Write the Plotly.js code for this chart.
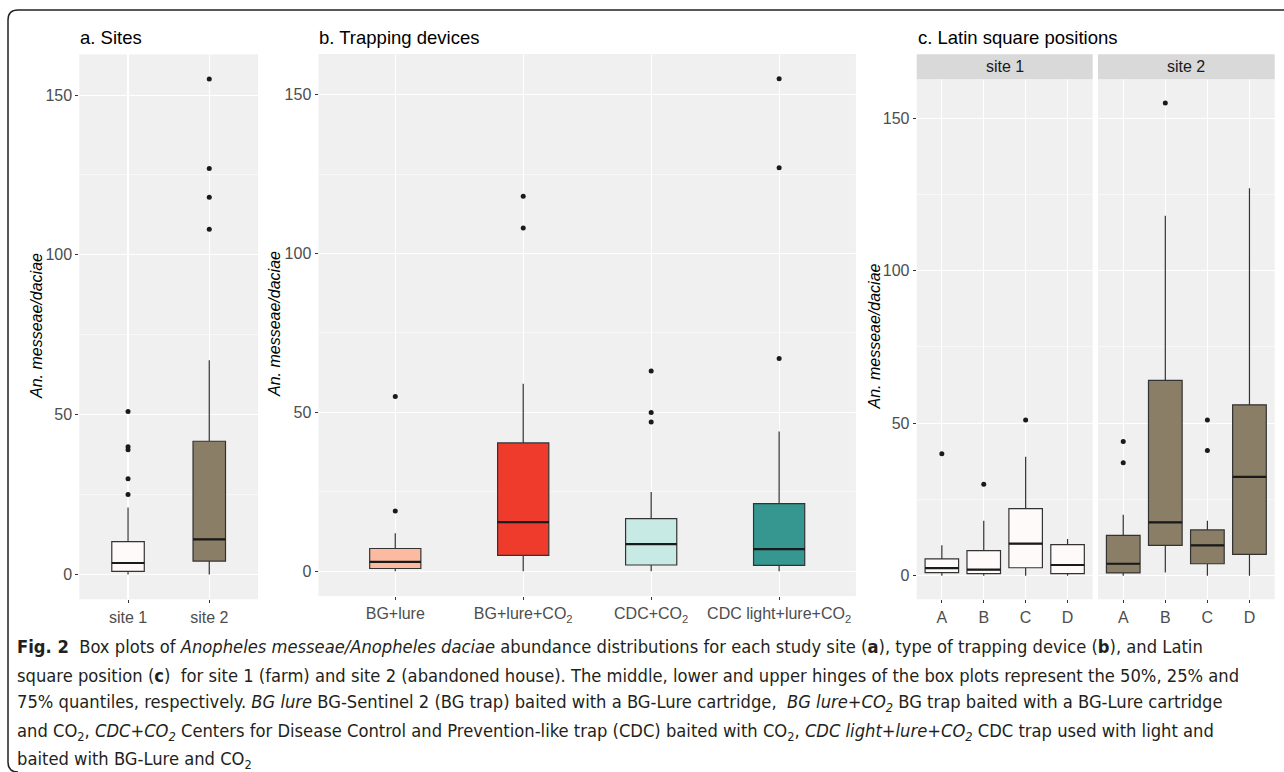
<!DOCTYPE html>
<html><head><meta charset="utf-8">
<script src="https://cdn.plot.ly/plotly-3.0.1.min.js"></script>
<style>html,body{margin:0;padding:0;background:#fff;overflow:hidden}#chart{width:1284px;height:772px}</style>
</head><body><div id="chart"></div>
<script>
// ---------- Panel a: sites ----------
const siteCategories = ["site 1", "site 2"];
const siteLowerWhisker = [0, 0];
const siteQ1 = [1.0, 4.2];
const siteMedian = [3.6, 11.0];
const siteQ3 = [10.3, 41.7];
const siteUpperWhisker = [21, 67];
const siteOutliersSite1 = [25, 30, 39, 40, 51];
const siteOutliersSite2 = [108, 118, 127, 155];

// ---------- Panel b: trapping devices ----------
const trapCategories = ["BG+lure", "BG+lure+CO2", "CDC+CO2", "CDC light+lure+CO2"];
const trapTickLabels = ["BG+lure", "BG+lure+CO<sub>2</sub>", "CDC+CO<sub>2</sub>", "CDC light+lure+CO<sub>2</sub>"];
const trapLowerWhisker = [0, 0, 0, 0];
const trapQ1 = [0.9, 5.0, 2.0, 1.9];
const trapMedian = [3.0, 15.5, 8.6, 7.0];
const trapQ3 = [7.2, 40.4, 16.6, 21.3];
const trapUpperWhisker = [12, 59, 25, 44];
const trapOutliersBGlure = [19, 55];
const trapOutliersBGlureCO2 = [108, 118];
const trapOutliersCDCCO2 = [47, 50, 63];
const trapOutliersCDClight = [67, 127, 155];

// ---------- Panel c: Latin square positions ----------
const positionCategories = ["A", "B", "C", "D"];
const facetLabels = ["site 1", "site 2"];
const site1LowerWhisker = [0, 0, 0, 0];
const site1Q1 = [1.0, 0.7, 2.6, 0.7];
const site1Median = [2.5, 2.0, 10.5, 3.5];
const site1Q3 = [5.5, 8.2, 22.0, 10.2];
const site1UpperWhisker = [10, 18, 39, 12];
const site1OutliersA = [40], site1OutliersB = [30], site1OutliersC = [51], site1OutliersD = [];
const site2LowerWhisker = [0, 1, 0, 0];
const site2Q1 = [0.9, 9.9, 3.9, 7.0];
const site2Median = [3.9, 17.5, 9.9, 32.4];
const site2Q3 = [13.2, 64.0, 15.0, 56.0];
const site2UpperWhisker = [20, 118, 18, 127];
const site2OutliersA = [37, 44], site2OutliersB = [155], site2OutliersC = [41, 51], site2OutliersD = [];

// ---------- styles ----------
const W = 1284, H = 772;
const PX = x => x / W, PY = y => 1 - y / H;
const siteFills = ["#FFFAFA", "#8B7E66"];
const trapFills = ["#FCBBA1", "#EF3B2C", "#C7EAE5", "#35978F"];
const outline = "#333333";
const FONT = "Liberation Sans, Arial, sans-serif";
const CAPFONT = "DejaVu Sans Condensed, sans-serif";

const traces = [];
function addBox(xa, ya, cats, q1, med, q3, lo, hi, fill, width) {
  traces.push({type: "box", xaxis: xa, yaxis: ya, x: cats, q1: q1, median: med, q3: q3,
    lowerfence: lo, upperfence: hi, fillcolor: fill, width: width, whiskerwidth: 0,
    boxpoints: false, line: {color: outline, width: 1.2}, hoverinfo: "skip"});
}
function addMedian(xa, ya, cats, med, pxWidth) {
  traces.push({type: "scatter", mode: "markers", xaxis: xa, yaxis: ya, x: cats, y: med,
    marker: {symbol: "line-ew", size: pxWidth / 1.4, color: "#1A1A1A", line: {color: "#1A1A1A", width: 2.2}},
    hoverinfo: "skip", cliponaxis: false});
}
function addOutliers(xa, ya, cats, lists) {
  const xs = [], ys = [];
  lists.forEach((l, i) => l.forEach(v => { xs.push(cats[i]); ys.push(v); }));
  traces.push({type: "scatter", mode: "markers", xaxis: xa, yaxis: ya, x: xs, y: ys,
    marker: {size: 5, color: "#1A1A1A"}, hoverinfo: "skip", cliponaxis: false});
}

// panel a
siteCategories.forEach((c, i) => addBox("x", "y", [c], [siteQ1[i]], [siteMedian[i]], [siteQ3[i]],
  [siteLowerWhisker[i]], [siteUpperWhisker[i]], siteFills[i], 0.4));
addMedian("x", "y", siteCategories, siteMedian, 0.4 * 81.2);
addOutliers("x", "y", siteCategories, [siteOutliersSite1, siteOutliersSite2]);

// panel b
trapCategories.forEach((c, i) => addBox("x2", "y2", [c], [trapQ1[i]], [trapMedian[i]], [trapQ3[i]],
  [trapLowerWhisker[i]], [trapUpperWhisker[i]], trapFills[i], 0.4));
addMedian("x2", "y2", trapCategories, trapMedian, 0.4 * 128.3);
addOutliers("x2", "y2", trapCategories, [trapOutliersBGlure, trapOutliersBGlureCO2, trapOutliersCDCCO2, trapOutliersCDClight]);

// panel c
addBox("x3", "y3", positionCategories, site1Q1, site1Median, site1Q3, site1LowerWhisker, site1UpperWhisker, siteFills[0], 0.8);
addMedian("x3", "y3", positionCategories, site1Median, 0.8 * 41.9);
addOutliers("x3", "y3", positionCategories, [site1OutliersA, site1OutliersB, site1OutliersC, site1OutliersD]);
addBox("x4", "y4", positionCategories, site2Q1, site2Median, site2Q3, site2LowerWhisker, site2UpperWhisker, siteFills[1], 0.8);
addMedian("x4", "y4", positionCategories, site2Median, 0.8 * 41.9);
addOutliers("x4", "y4", positionCategories, [site2OutliersA, site2OutliersB, site2OutliersC, site2OutliersD]);

function xAxis(x0, x1, anchor, cats, ticktext) {
  const ax = {domain: [PX(x0), PX(x1)], anchor: anchor, type: "category", categoryorder: "array",
    categoryarray: cats, range: [-0.6, cats.length - 0.4], showgrid: true, gridcolor: "#FFFFFF",
    gridwidth: 1.1, zeroline: false, showline: false, ticks: "outside", ticklen: 3, tickwidth: 1,
    tickcolor: outline, tickfont: {family: FONT, size: 16, color: "#4D4D4D"}, fixedrange: true};
  if (ticktext) { ax.tickmode = "array"; ax.tickvals = cats; ax.ticktext = ticktext; }
  return ax;
}
function yAxis(y0, y1, anchor, showLabels) {
  return {domain: [PY(y1), PY(y0)], anchor: anchor, range: [-7.75, 162.75], tickmode: "linear",
    tick0: 0, dtick: 50, showgrid: true, gridcolor: "#FFFFFF", gridwidth: 1.1, zeroline: false,
    showline: false, ticks: showLabels ? "outside" : "", ticklen: 3, tickwidth: 1, tickcolor: outline,
    showticklabels: showLabels, tickfont: {family: FONT, size: 16, color: "#4D4D4D"},
    minor: {tick0: 0, dtick: 25, showgrid: true, gridcolor: "#FFFFFF", gridwidth: 0.5, ticks: ""},
    fixedrange: true};
}

const annotations = [];
function ann(text, x, y, opts) {
  annotations.push(Object.assign({text: text, xref: "paper", yref: "paper", x: PX(x), y: PY(y),
    showarrow: false, xanchor: "left", yanchor: "middle",
    font: {family: FONT, size: 18.5, color: "#000000"}}, opts || {}));
}
ann("a. Sites", 78, 38);
ann("b. Trapping devices", 317, 38);
ann("c. Latin square positions", 915.5, 38);
const yTitle = "<i>An. messeae/daciae</i>";
[[37, 326], [275, 324], [873.5, 337]].forEach(p => ann(yTitle, p[0], p[1],
  {xanchor: "center", textangle: -90, font: {family: FONT, size: 16, color: "#000000"}}));
ann(facetLabels[0], (916.7 + 1092.7) / 2, 67, {xanchor: "center", font: {family: FONT, size: 16, color: "#1A1A1A"}});
ann(facetLabels[1], (1098 + 1274.7) / 2, 67, {xanchor: "center", font: {family: FONT, size: 16, color: "#1A1A1A"}});

const captionLines = [
  "<b>Fig. 2</b>  Box plots of <i>Anopheles messeae/Anopheles daciae</i> abundance distributions for each study site (<b>a</b>), type of trapping device (<b>b</b>), and Latin",
  "square position (<b>c</b>)  for site 1 (farm) and site 2 (abandoned house). The middle, lower and upper hinges of the box plots represent the 50%, 25% and",
  "75% quantiles, respectively. <i>BG lure</i> BG-Sentinel 2 (BG trap) baited with a BG-Lure cartridge,  <i>BG lure+CO<sub>2</sub></i> BG trap baited with a BG-Lure cartridge",
  "and CO<sub>2</sub>, <i>CDC+CO<sub>2</sub></i> Centers for Disease Control and Prevention-like trap (CDC) baited with CO<sub>2</sub>, <i>CDC light+lure+CO<sub>2</sub></i> CDC trap used with light and",
  "baited with BG-Lure and CO<sub>2</sub>"
];
const captionY = [646, 675, 703, 732, 760];
captionLines.forEach((t, i) => ann(t, 15, captionY[i],
  {font: {family: CAPFONT, size: 18.2, color: "#231F20"}}));

const shapes = [
  {type: "rect", xref: "paper", yref: "paper", x0: PX(916.7), x1: PX(1092.7), y0: PY(79.3), y1: PY(54.3),
    fillcolor: "#D9D9D9", line: {width: 0}},
  {type: "rect", xref: "paper", yref: "paper", x0: PX(1098), x1: PX(1274.7), y0: PY(79.3), y1: PY(54.3),
    fillcolor: "#D9D9D9", line: {width: 0}},
  {type: "path", xref: "paper", yref: "paper",
    path: `M ${PX(18)},${PY(772)} Q ${PX(8)},${PY(772)} ${PX(8)},${PY(762)} L ${PX(8)},${PY(20)} Q ${PX(8)},${PY(10)} ${PX(18)},${PY(10)} L ${PX(1284)},${PY(10)}`,
    line: {color: "#222222", width: 1.5}}
];

const layout = {
  width: W, height: H, margin: {l: 0, r: 0, t: 0, b: 0}, showlegend: false,
  paper_bgcolor: "#FFFFFF", plot_bgcolor: "#F0F0F0", boxmode: "overlay",
  font: {family: FONT},
  xaxis: xAxis(79.3, 258, "y", siteCategories),
  yaxis: yAxis(54.3, 599.3, "x", true),
  xaxis2: xAxis(318.5, 855.9, "y2", trapCategories, trapTickLabels),
  yaxis2: yAxis(54, 596, "x2", true),
  xaxis3: xAxis(916.7, 1092.7, "y3", positionCategories),
  yaxis3: yAxis(79.3, 599.3, "x3", true),
  xaxis4: xAxis(1098, 1274.7, "y4", positionCategories),
  yaxis4: yAxis(79.3, 599.3, "x4", false),
  annotations: annotations, shapes: shapes
};
Plotly.newPlot("chart", traces, layout, {displayModeBar: false, staticPlot: true});
</script></body></html>
